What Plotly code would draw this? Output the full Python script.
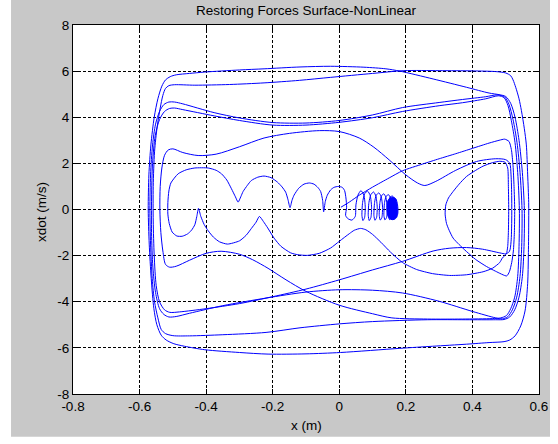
import plotly.graph_objects as go

# ---------------------------------------------------------------
# Phase-plane trajectory of the nonlinear oscillator (x [m], xdot [m/s]).
# Each list is one strand of the orbit, in the order it is travelled.
# ---------------------------------------------------------------

# outer laps: top strands (moving right, xdot > 0)
T1 = [(-0.508, 5.76), (-0.49, 5.84), (-0.45, 5.9), (-0.404, 5.96), (-0.3, 6.05), (-0.226, 6.1),
      (-0.118, 6.18), (-0.026, 6.21), (0.074, 6.17), (0.14, 6.1), (0.182, 6.0), (0.282, 5.66),
      (0.382, 5.3), (0.45, 5.05), (0.48, 4.98)]
T2 = [(-0.512, 5.37), (-0.495, 5.41), (-0.434, 5.39), (-0.33, 5.42), (-0.226, 5.49), (-0.12, 5.6),
      (-0.026, 5.73), (0.1, 5.9), (0.194, 6.02), (0.3, 6.02), (0.4, 6.01), (0.47, 5.98), (0.5, 5.92),
      (0.515, 5.8)]
T3 = [(-0.495, 4.66), (-0.47, 4.58), (-0.376, 4.2), (-0.3, 3.97), (-0.2, 3.77), (-0.1, 3.75), (0.0, 3.86),
      (0.1, 4.1), (0.19, 4.42), (0.3, 4.64), (0.37, 4.77), (0.44, 4.89), (0.475, 4.97)]
T4 = [(-0.495, 4.4), (-0.47, 4.33), (-0.376, 4.06), (-0.3, 3.86), (-0.2, 3.66), (-0.1, 3.66), (0.0, 3.78),
      (0.1, 3.98), (0.19, 4.25), (0.3, 4.5), (0.37, 4.63), (0.44, 4.8), (0.478, 4.93)]
T5 = [(-0.5, 2.63), (-0.47, 2.47), (-0.424, 2.34), (-0.37, 2.4), (-0.3, 2.72), (-0.226, 3.1), (-0.15, 3.3),
      (-0.06, 3.42), (0.0, 3.38), (0.06, 3.1), (0.104, 2.7), (0.15, 2.15), (0.2, 1.5), (0.235, 1.15),
      (0.257, 1.04), (0.29, 1.22), (0.35, 1.7), (0.412, 2.08), (0.47, 2.2), (0.5, 2.16)]

# right-hand strands (moving down)
R1 = [(0.522, 5.62), (0.53, 5.3), (0.54, 4.8), (0.547, 4.3), (0.556, 3.5), (0.562, 2.8), (0.566, 1.5),
      (0.569, 0.3), (0.569, -0.8), (0.568, -2.0), (0.566, -3.2), (0.558, -4.4), (0.545, -5.05),
      (0.528, -5.48), (0.512, -5.66)]
R2 = [(0.5, 4.9), (0.515, 4.6), (0.528, 4.0), (0.54, 3.0), (0.55, 1.6), (0.556, 0.0), (0.555, -1.6),
      (0.55, -2.9), (0.54, -3.8), (0.527, -4.35), (0.512, -4.66), (0.495, -4.77)]
R3 = [(0.497, 4.88), (0.51, 4.55), (0.522, 3.9), (0.534, 2.9), (0.543, 1.6), (0.549, 0.0), (0.548, -1.6),
      (0.543, -2.9), (0.533, -3.8), (0.52, -4.35), (0.506, -4.65), (0.49, -4.74)]
R4 = [(0.495, 4.85), (0.507, 4.5), (0.517, 3.85), (0.528, 2.9), (0.536, 1.6), (0.541, 0.0), (0.54, -1.6),
      (0.536, -2.9), (0.527, -3.8), (0.515, -4.3), (0.502, -4.6), (0.485, -4.7)]
R_T5 = [(0.512, 2.0), (0.516, 1.5), (0.518, 0.5), (0.518, -0.5), (0.516, -1.4), (0.511, -1.82), (0.5, -1.92)]

# bottom strands (moving left, xdot < 0)
B1 = [(0.495, -5.73), (0.45, -5.77), (0.382, -5.84), (0.28, -5.93), (0.182, -6.02), (0.004, -6.2),
      (-0.1, -6.26), (-0.214, -6.27), (-0.3, -6.2), (-0.404, -6.08), (-0.465, -5.93), (-0.497, -5.82)]
B2 = [(0.47, -4.78), (0.38, -4.78), (0.265, -4.78), (0.1, -4.86), (0.0, -4.96), (-0.118, -5.13),
      (-0.22, -5.33), (-0.35, -5.43), (-0.45, -5.48), (-0.5, -5.47), (-0.522, -5.38)]
B3 = [(0.482, -1.88), (0.43, -1.72), (0.382, -1.65), (0.33, -1.68), (0.282, -1.8), (0.19, -2.25),
      (0.1, -2.62), (0.0, -3.05), (-0.1, -3.45), (-0.2, -3.78), (-0.3, -4.08), (-0.4, -4.3), (-0.48, -4.44),
      (-0.509, -4.46)]
B4 = [(0.47, -4.7), (0.4, -4.42), (0.3, -3.98), (0.19, -3.62), (0.1, -3.5), (0.0, -3.48), (-0.1, -3.58),
      (-0.22, -3.84), (-0.35, -4.17), (-0.45, -4.5), (-0.49, -4.64), (-0.512, -4.66)]
B5 = [(0.46, -4.73), (0.37, -4.75), (0.265, -4.75), (0.158, -4.7), (0.1, -4.52), (0.0, -4.15), (-0.1, -3.55),
      (-0.16, -3.05), (-0.214, -2.55), (-0.26, -2.18), (-0.3, -1.94), (-0.355, -1.81), (-0.4, -1.9),
      (-0.45, -2.2), (-0.49, -2.46), (-0.51, -2.5)]

# left-hand strands (moving up)
L1 = [(-0.52, -5.66), (-0.535, -5.45), (-0.548, -5.0), (-0.557, -4.3), (-0.565, -3.0), (-0.571, -1.5),
      (-0.574, 0.0), (-0.572, 1.5), (-0.566, 2.8), (-0.556, 4.0), (-0.545, 4.8), (-0.533, 5.35), (-0.522, 5.62)]
L2 = [(-0.535, -5.2), (-0.545, -4.7), (-0.555, -4.0), (-0.562, -3.0), (-0.567, -1.5), (-0.569, 0.0),
      (-0.567, 1.5), (-0.561, 2.8), (-0.552, 3.7), (-0.54, 4.25), (-0.527, 4.55), (-0.512, 4.66)]
L3 = [(-0.527, -4.55), (-0.54, -4.3), (-0.552, -3.6), (-0.56, -2.5), (-0.564, -1.0), (-0.564, 0.5),
      (-0.561, 2.0), (-0.553, 3.2), (-0.54, 3.9), (-0.525, 4.25), (-0.51, 4.38)]
L4 = [(-0.525, -4.35), (-0.54, -4.0), (-0.55, -3.3), (-0.556, -2.0), (-0.559, -0.5), (-0.559, 1.0),
      (-0.555, 2.5), (-0.547, 3.6), (-0.538, 4.4), (-0.53, 4.95), (-0.522, 5.25)]
L5 = [(-0.522, -2.38), (-0.53, -1.8), (-0.536, -1.0), (-0.539, 0.0), (-0.538, 1.0), (-0.533, 1.8),
      (-0.525, 2.35), (-0.514, 2.58)]

# inner, decaying part of the motion
D = [(0.005, 0.1), (0.03, 0.32), (0.06, 0.62), (0.1, 0.97), (0.15, 1.37), (0.19, 1.68), (0.25, 1.97),
     (0.3, 2.2), (0.35, 2.42), (0.4, 2.65), (0.45, 2.88), (0.48, 3.0), (0.497, 3.05)]
R_D = [(0.51, 2.95), (0.517, 2.6), (0.522, 1.9), (0.525, 1.0), (0.527, 0.0), (0.526, -1.0), (0.523, -1.8),
       (0.518, -2.3), (0.511, -2.7), (0.503, -2.88)]
ARC = [(0.47, -2.68), (0.442, -2.47), (0.41, -2.17), (0.382, -1.82), (0.36, -1.52), (0.342, -1.24),
       (0.33, -0.9), (0.322, -0.6), (0.318, -0.2), (0.32, 0.2), (0.328, 0.5), (0.342, 0.78), (0.36, 1.1),
       (0.382, 1.43), (0.41, 1.7), (0.432, 1.88), (0.46, 2.03), (0.482, 2.09), (0.498, 2.05)]
R_ARC = [(0.506, 1.8), (0.508, 1.0), (0.509, 0.0), (0.508, -1.0), (0.506, -1.6), (0.502, -1.92)]
LENS_LOW = [(0.49, -2.1), (0.482, -2.3), (0.46, -2.55), (0.432, -2.7), (0.382, -2.83), (0.332, -2.86),
            (0.28, -2.78), (0.232, -2.6), (0.19, -2.3), (0.154, -1.85), (0.125, -1.42), (0.1, -1.08),
            (0.08, -0.88), (0.064, -0.82), (0.045, -0.9), (0.03, -1.05), (0.0, -1.38), (-0.026, -1.67),
            (-0.06, -1.9), (-0.096, -1.99), (-0.125, -1.96), (-0.146, -1.88), (-0.175, -1.6),
            (-0.196, -1.24), (-0.215, -0.8), (-0.228, -0.52), (-0.24, -0.3)]
CHAIN_LOW = [(-0.25, -0.55), (-0.264, -0.82), (-0.28, -1.12), (-0.3, -1.36), (-0.336, -1.5), (-0.36, -1.4),
             (-0.378, -1.2), (-0.394, -0.92), (-0.406, -0.65), (-0.416, -0.3), (-0.423, 0.05)]
INNER_LOOP = [(-0.428, -0.3), (-0.434, -0.66), (-0.444, -0.9), (-0.456, -1.06), (-0.472, -1.16),
              (-0.488, -1.15), (-0.502, -0.98), (-0.511, -0.6), (-0.515, -0.2), (-0.515, 0.3), (-0.512, 0.8),
              (-0.506, 1.15), (-0.484, 1.55), (-0.46, 1.72), (-0.434, 1.8), (-0.394, 1.8), (-0.37, 1.7),
              (-0.354, 1.55), (-0.338, 1.28), (-0.324, 0.9), (-0.312, 0.55), (-0.304, 0.32)]
CHAIN_UP = [(-0.296, 0.55), (-0.289, 0.78), (-0.276, 1.05), (-0.264, 1.26), (-0.245, 1.4), (-0.226, 1.45),
            (-0.205, 1.38), (-0.186, 1.19), (-0.172, 0.98), (-0.161, 0.75), (-0.154, 0.42), (-0.148, 0.08),
            (-0.142, 0.4), (-0.136, 0.62), (-0.122, 0.92), (-0.106, 1.1), (-0.09, 1.15), (-0.076, 1.1),
            (-0.064, 0.95), (-0.056, 0.78), (-0.05, 0.4), (-0.047, -0.1), (-0.042, 0.35), (-0.036, 0.62),
            (-0.026, 0.85), (-0.016, 0.96), (-0.003, 1.0), (0.009, 0.96), (0.016, 0.82), (0.02, 0.5),
            (0.022, 0.1), (0.019, -0.26)]
LOOPS = [(0.026, -0.4), (0.038, -0.46), (0.048, -0.3), (0.05, 0.2), (0.056, 0.62), (0.065, 0.82),
         (0.074, 0.62), (0.078, 0.1), (0.076, -0.35), (0.071, -0.48),
         (0.068, -0.25), (0.07, 0.3), (0.076, 0.68), (0.085, 0.8), (0.093, 0.6), (0.097, 0.1),
         (0.095, -0.35), (0.09, -0.48),
         (0.087, -0.25), (0.089, 0.3), (0.095, 0.65), (0.103, 0.76), (0.11, 0.58), (0.114, 0.1),
         (0.112, -0.35), (0.107, -0.47),
         (0.104, -0.25), (0.106, 0.3), (0.111, 0.62), (0.119, 0.72), (0.126, 0.55), (0.13, 0.1),
         (0.128, -0.35), (0.123, -0.46),
         (0.12, -0.25), (0.122, 0.3), (0.127, 0.6), (0.134, 0.68), (0.14, 0.52), (0.144, 0.1),
         (0.142, -0.35), (0.137, -0.45),
         (0.134, -0.25), (0.136, 0.3), (0.141, 0.58), (0.148, 0.64), (0.154, 0.5), (0.158, 0.1),
         (0.156, -0.35), (0.151, -0.44),
         (0.147, -0.25), (0.149, 0.3), (0.153, 0.55), (0.16, 0.58), (0.167, 0.45), (0.171, 0.05),
         (0.168, -0.35), (0.161, -0.43), (0.154, -0.3)]
# final tightly wound limit cycle
BLOB = [(0.143, 0.0), (0.145, 0.35), (0.152, 0.5), (0.162, 0.53), (0.17, 0.46), (0.175, 0.2),
        (0.176, -0.15), (0.172, -0.35), (0.165, -0.43), (0.155, -0.43), (0.147, -0.3), (0.143, 0.0)]

OUTER_ORDER = [T2, R1, B1, L1, T1, R2, B2, L2, T3, R3, B4, L3, T4, R4, B5, L5, T5, R_T5, B3, L4]
INNER_ORDER = [D, R_D, ARC, R_ARC, LENS_LOW, CHAIN_LOW, INNER_LOOP, CHAIN_UP, LOOPS]

X_TICKS = [-0.8, -0.6, -0.4, -0.2, 0, 0.2, 0.4, 0.6]
X_TICK_LABELS = ['-0.8', '-0.6', '-0.4', '-0.2', '0', '0.2', '0.4', '0.6']
Y_TICKS = [-8, -6, -4, -2, 0, 2, 4, 6, 8]
Y_TICK_LABELS = ['-8', '-6', '-4', '-2', '0', '2', '4', '6', '8']


def chain(strands, close=False):
    pts = [p for s in strands for p in s]
    if close:
        pts.append(pts[0])
    return [p[0] for p in pts], [p[1] for p in pts]


BLUE = '#0000ff'
FONT = 'Liberation Sans, Arial, Helvetica, sans-serif'

fig = go.Figure()
ox, oy = chain(OUTER_ORDER, close=True)
fig.add_trace(go.Scatter(x=ox, y=oy, mode='lines', hoverinfo='skip', showlegend=False,
                         line=dict(color=BLUE, width=1, shape='spline', smoothing=0.8)))
ix, iy = chain(INNER_ORDER)
fig.add_trace(go.Scatter(x=ix, y=iy, mode='lines', hoverinfo='skip', showlegend=False,
                         line=dict(color=BLUE, width=1, shape='spline', smoothing=0.6)))
bx, by = chain([BLOB])
fig.add_trace(go.Scatter(x=bx, y=by, mode='lines', fill='toself', fillcolor=BLUE, hoverinfo='skip',
                         showlegend=False, line=dict(color=BLUE, width=1, shape='spline', smoothing=0.8)))

axis_common = dict(showgrid=True, gridcolor='black', gridwidth=1, griddash='3px,2px',
                   showline=True, linecolor='black', linewidth=1, mirror='allticks',
                   ticks='inside', ticklen=5, tickcolor='black', zeroline=False,
                   tickfont=dict(family=FONT, size=13.5, color='black'))

fig.update_layout(
    width=558, height=444,
    margin=dict(l=73, r=19, t=25, b=50, autoexpand=False),
    paper_bgcolor='#c8c8c8', plot_bgcolor='white',
    font=dict(family=FONT, size=13.5, color='black'),
    title=dict(text='Restoring Forces Surface-NonLinear', x=0.5, xref='paper', xanchor='center',
               y=1 - 10 / 444, yref='container', yanchor='middle',
               font=dict(family=FONT, size=13.5, color='black')),
    xaxis=dict(range=[-0.8, 0.6], tickvals=X_TICKS, ticktext=X_TICK_LABELS, **axis_common),
    yaxis=dict(range=[-8, 8], tickvals=Y_TICKS, ticktext=Y_TICK_LABELS, **axis_common),
    annotations=[
        dict(text='x (m)', xref='paper', yref='paper', x=0.5, y=-0.086, xanchor='center',
             yanchor='middle', showarrow=False, font=dict(family=FONT, size=13.5, color='black')),
        dict(text='xdot (m/s)', xref='paper', yref='paper', x=-0.068, y=0.494, textangle=-90,
             xanchor='center', yanchor='middle', showarrow=False,
             font=dict(family=FONT, size=13.5, color='black')),
    ],
    shapes=[
        # white page margins around the grey figure area
        dict(type='rect', xref='paper', yref='paper', x0=-0.16, x1=-0.133, y0=-0.2, y1=1.2,
             fillcolor='white', line=dict(width=0), layer='above'),
        dict(type='rect', xref='paper', yref='paper', x0=1.0236, x1=1.1, y0=-0.2, y1=1.2,
             fillcolor='white', line=dict(width=0), layer='above'),
        dict(type='rect', xref='paper', yref='paper', x0=-0.2, x1=1.2, y0=-0.2, y1=-0.1158,
             fillcolor='white', line=dict(width=0), layer='above'),
    ],
)

fig.write_html('out.html')
